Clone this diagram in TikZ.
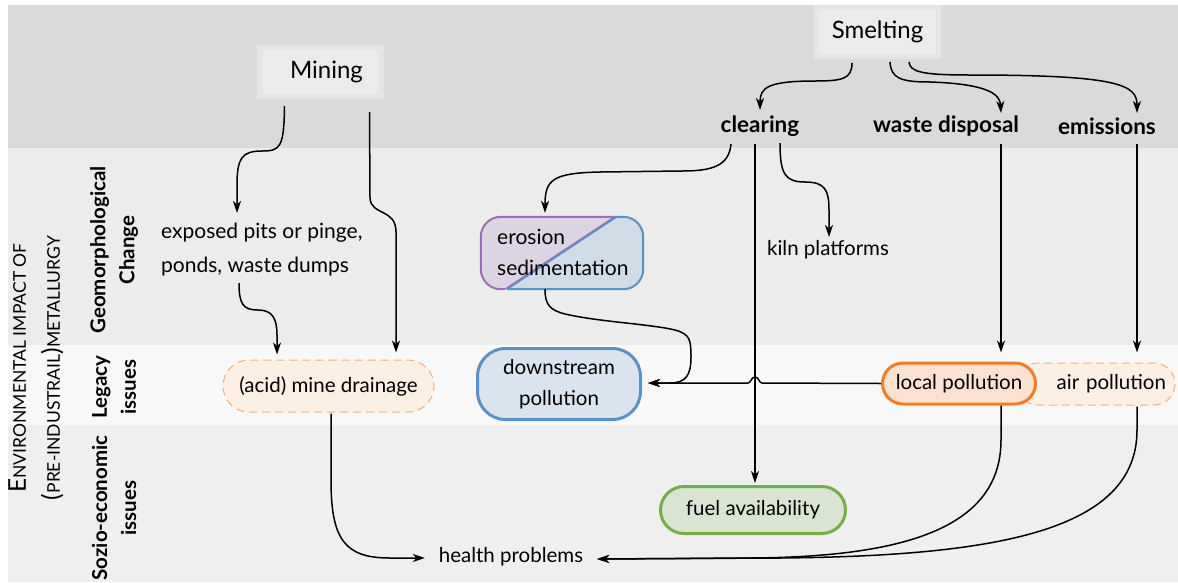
\documentclass[tikz,border=0pt]{standalone}
\usepackage{fontspec}
\setmainfont{Lato}
\usetikzlibrary{arrows.meta,shapes.misc,calc}
\definecolor{bandtop}{HTML}{DADADA}
\definecolor{bandgeo}{HTML}{ECECEC}
\definecolor{bandleg}{HTML}{F8F8F8}
\definecolor{bandsoc}{HTML}{EFEFEF}
\definecolor{srcfill}{HTML}{EBEBEB}
\definecolor{srcdraw}{HTML}{E5E5E5}
\definecolor{orfillL}{HTML}{FCEFE4}
\definecolor{ordash}{HTML}{F6AE76}
\definecolor{orfill}{HTML}{FBE1D0}
\definecolor{ordraw}{HTML}{EF7E2B}
\definecolor{blfill}{HTML}{DAE4EE}
\definecolor{bldraw}{HTML}{5A92C3}
\definecolor{blfill2}{HTML}{CFDCE6}
\definecolor{pufill}{HTML}{DDD4E3}
\definecolor{pudraw}{HTML}{9B6FB3}
\definecolor{grfill}{HTML}{DAE4D3}
\definecolor{grdraw}{HTML}{74AE4B}
\newcommand\mysc[1]{{\fontsize{17.5}{34}\selectfont #1}}
\begin{document}
\begin{tikzpicture}[x=1pt,y=-1pt,
  font=\fontsize{20.5}{31}\selectfont,
  >={Stealth[length=12pt,width=8pt,inset=3.5pt]},
  conn/.style={->,line width=1.5pt,black},
  srcbox/.style={rectangle,fill=srcfill,draw=srcdraw,line width=5pt,minimum width=122pt,minimum height=49pt,inner sep=0pt,font=\fontsize{24}{30}\selectfont},
  catlbl/.style={font=\bfseries\fontsize{22.5}{26}\selectfont,inner sep=0pt},
  rowlbl/.style={rotate=90,align=center,font=\bfseries\fontsize{20.5}{29}\selectfont,inner sep=0pt},
  pill/.style={rounded rectangle,inner sep=0pt},
  plain/.style={inner sep=0pt}]
\useasboundingbox (0,0) rectangle (1178,582);
\fill[white] (0,0) rectangle (1178,582);
\fill[bandtop] (8,5) rectangle (1178,148);
\fill[bandgeo] (8,148) rectangle (1178,345);
\fill[bandleg] (8,345) rectangle (1178,425);
\fill[bandsoc] (8,425) rectangle (1178,582);

% row labels
\node[rotate=90,align=center,inner sep=0pt,font=\fontsize{24.5}{34}\selectfont] (title) at (36,368)
  {E\mysc{NVIRONMENTAL IMPACT OF}\\(\mysc{PRE-INDUSTRAIL})\mysc{METALLURGY}};
\node[rowlbl] (rgeo) at (114,250) {Geomorphological\\Change};
\node[rowlbl] (rleg) at (114,387) {Legacy\\issues};
\node[rowlbl] (rsoc) at (114,508) {Sozio-economic\\issues};

% sources
\node[srcbox] (mining) at (320.5,72) {\hspace*{12pt}Mining};
\node[srcbox] (smelting) at (877.5,32) {Smelting};

% categories
\node[catlbl] (clearing) at (760,126) {clearing};
\node[catlbl] (waste) at (946,126) {waste disposal};
\node[catlbl] (emissions) at (1107,126) {emissions};

% geomorph texts
\node[plain,anchor=west,align=left,font=\fontsize{21}{34}\selectfont] (pits) at (161,250) {exposed pits or pinge,\\ponds, waste dumps};
\node[plain] (kiln) at (828,250) {kiln platforms};

% erosion split box
\node[minimum width=162pt,minimum height=72pt,inner sep=0pt] (ero) at (562,253) {};
\begin{scope}
  \clip[rounded corners=20pt] (ero.north west) rectangle (ero.south east);
  \fill[blfill2] (ero.north west) rectangle (ero.south east);
  \fill[pufill] (ero.north west) -- (616,217) -- (507,289) -- (ero.south west) -- cycle;
\end{scope}
\begin{scope}
  \clip (470,205) -- (630,205) -- (507,289) -- (470,300) -- cycle;
  \draw[pudraw,line width=2pt,rounded corners=20pt] (ero.north west) rectangle (ero.south east);
\end{scope}
\begin{scope}
  \clip (630,205) -- (660,205) -- (660,300) -- (507,300) -- (507,289) -- cycle;
  \draw[bldraw,line width=2pt,rounded corners=20pt] (ero.north west) rectangle (ero.south east);
\end{scope}
\draw[bldraw,line width=2pt] (616,217) -- (507,289);
\draw[pudraw,line width=1pt] (615,216.3) -- (506,288.3);
\node[plain,anchor=west,align=left,font=\fontsize{21}{31}\selectfont] (erotxt) at (497,252) {erosion\\sedimentation};

% legacy
\node[pill,fill=orfillL,draw=ordash,line width=1pt,dash pattern=on 8pt off 5pt,minimum width=211pt,minimum height=52pt] (acid) at (328.5,386) {(acid) mine drainage};
\node[draw=bldraw,fill=blfill,line width=3pt,rounded corners=28pt,minimum width=163pt,minimum height=71pt,align=center,inner sep=0pt] (down) at (559,384) {downstream\\pollution};
\node[pill,fill=orfillL,draw=ordash,line width=1pt,dash pattern=on 8pt off 5pt,minimum width=158pt,minimum height=42pt,text width=140pt,align=right] (air) at (1096,384) {air pollution};
\node[pill,fill=orfill,draw=ordraw,line width=3pt,minimum width=153pt,minimum height=41pt] (local) at (959,383.5) {local pollution};

% socio
\node[pill,fill=grfill,draw=grdraw,line width=3pt,minimum width=185pt,minimum height=47pt] (fuel) at (753,510) {fuel availability};
\node[plain,minimum width=172pt] (health) at (511,557) {health problems};

% connectors
\draw[conn] ($(mining.south)+(-36,7)$) .. controls (284,148) and (280,151) .. (262,151)
   .. controls (242,151) and (237,158) .. (237,185) -- ($(pits.west)+(76,-37)$);
\draw[conn] ($(mining.south)+(49,13)$) -- (370,198) .. controls (371,216) and (396,208) .. (396,232)
   -- ($(acid.north)+(67.5,-7)$);
\draw[conn] ($(pits.west)+(78,33)$) .. controls (239,304) and (243,310) .. (258,310)
   .. controls (272,310) and (277,318) .. (277,335) -- ($(acid.north)+(-51.5,-5)$);

\draw[conn] ($(smelting.south)+(-25.5,4)$) .. controls (852,79) and (842,81) .. (815,81)
   .. controls (767,81) and (760,88) .. ($(clearing.center)+(0,-16)$);
\draw[conn] ($(smelting.south)+(12.5,3)$) .. controls (891,78) and (900,82) .. (930,82)
   .. controls (990,84) and (1000,95) .. ($(waste.center)+(55,-13)$);
\draw[conn] ($(smelting.south)+(31.5,3)$) .. controls (910,72) and (922,75) .. (970,75)
   .. controls (1120,75) and (1137,85) .. ($(emissions.center)+(30,-13)$);

\draw[conn] ($(clearing.center)+(-29,18)$) .. controls (729,166) and (712,171) .. (682,171)
   -- (600,172) .. controls (552,173) and (545,180) .. ($(ero.north)+(-17,-4)$);
\draw[conn] ($(clearing.center)+(-5,18)$) -- ($(fuel.north)+(2,-2)$);
\draw[conn] ($(clearing.center)+(20,17)$) .. controls (780,174) and (785,182) .. (805,182)
   .. controls (825,182) and (829,190) .. (829,210) -- ($(kiln.center)+(1,-13)$);
\draw[conn] ($(waste.center)+(55,18)$) -- ($(local.north)+(42,-9)$);
\draw[conn] ($(emissions.center)+(30,18)$) -- ($(air.north)+(41,-10)$);

\draw[conn] (local.west) -- (762,383) .. controls (759,383) and (759,377) .. (755,377)
   .. controls (751,377) and (751,383) .. (748,383) -- ($(down.east)+(6,-1)$);
\draw[conn] ($(ero.south)+(-17,0)$) .. controls (545,305) and (550,310) .. (565,314)
   .. controls (600,322) and (650,324) .. (675,330) .. controls (690,334) and (691,340) .. (691,357)
   .. controls (691,375) and (686,383) .. (670,383) -- ($(down.east)+(6,-1)$);

\draw[conn] ($(acid.south)+(2.5,1)$) -- (331,480) .. controls (331,540) and (345,558) .. (390,558)
   -- ($(health.west)+(0,1)$);
\draw[conn] ($(local.south)+(42,0)$) -- (1001,440) .. controls (1001,530) and (900,557) .. (750,558)
   -- ($(health.east)+(0,2)$);
\draw[conn] ($(air.south)+(41,1)$) -- (1137,430) .. controls (1137,530) and (1000,556) .. (780,558)
   -- ($(health.east)+(0,2)$);
\end{tikzpicture}
\end{document}
